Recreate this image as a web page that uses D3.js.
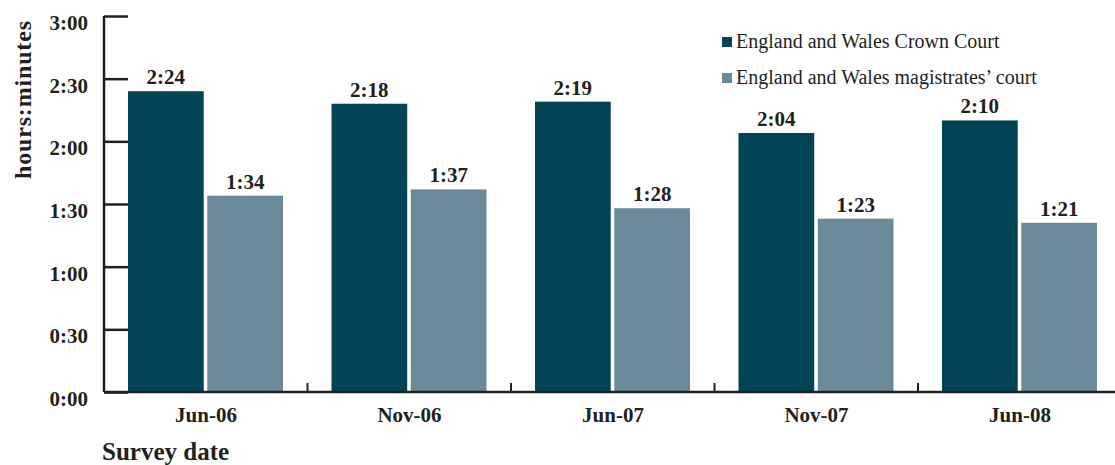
<!DOCTYPE html>
<html lang="en">
<head>
  <meta charset="UTF-8" />
  <title>Survey waiting times</title>
  <script src="https://cdn.jsdelivr.net/npm/d3@7"></script>
  <style>
    body { margin: 0; background: #fff; }
    text { font-family: "Liberation Serif", "DejaVu Serif", serif; fill: #231f20; }
  </style>
</head>
<body>
<script>
  // data, in minutes
  var dates = ["Jun-06", "Nov-06", "Jun-07", "Nov-07", "Jun-08"];
  var crownCourt = [144, 138, 139, 124, 130];
  var magistrates = [94, 97, 88, 83, 81];
  var seriesNames = ["England and Wales Crown Court", "England and Wales magistrates\u2019 court"];
  var yTicks = [0, 30, 60, 90, 120, 150, 180];

  var w = 1115,
    h = 465,
    plotLeft = 104,
    plotTop = 16,
    plotBottom = 392;

  var colors = ["#024456", "#6a8a9a"];

  function fmt(m) {
    var mm = m % 60;
    return Math.floor(m / 60) + ":" + (mm < 10 ? "0" : "") + mm;
  }

  var svg = d3.select("body").append("svg")
    .attr("width", w)
    .attr("height", h);

  var xScale = d3.scaleBand()
    .domain(dates)
    .range([plotLeft, plotLeft + 5 * 203.5]);

  var inner = d3.scaleBand()
    .domain([0, 1])
    .range([24, 179])
    .paddingInner(0.045);

  var yScale = d3.scaleLinear()
    .domain([0, 180])
    .range([plotBottom, plotTop]);

  var rows = dates.map(function(d, i) {
    return { date: d, values: [crownCourt[i], magistrates[i]] };
  });

  var groups = svg.selectAll("g.group")
    .data(rows)
    .enter()
    .append("g")
    .attr("class", "group")
    .attr("transform", function(d) { return "translate(" + xScale(d.date) + ",0)"; });

  groups.selectAll("rect")
    .data(function(d) { return d.values; })
    .enter()
    .append("rect")
    .attr("x", function(d, i) { return inner(i); })
    .attr("width", inner.bandwidth())
    .attr("y", function(d) { return yScale(d); })
    .attr("height", function(d) { return plotBottom - yScale(d); })
    .attr("fill", function(d, i) { return colors[i]; });

  groups.selectAll("text.val")
    .data(function(d) { return d.values; })
    .enter()
    .append("text")
    .attr("class", "val")
    .attr("x", function(d, i) { return inner(i) + inner.bandwidth() / 2; })
    .attr("y", function(d) { return yScale(d) - 7; })
    .attr("text-anchor", "middle")
    .attr("font-size", 21)
    .attr("font-weight", "bold")
    .text(function(d) { return fmt(d); });

  // y axis, ticks point into the plot
  var yAxis = d3.axisRight(yScale)
    .tickValues(yTicks)
    .tickSize(24)
    .tickFormat("");

  var gy = svg.append("g")
    .attr("transform", "translate(" + plotLeft + ",0)")
    .call(yAxis);
  gy.selectAll("line, path").attr("stroke", "#231f20").attr("stroke-width", 2.5);
  gy.select(".domain").attr("d", "M0," + plotTop + "V" + plotBottom);

  svg.selectAll("text.ytick")
    .data(yTicks)
    .enter()
    .append("text")
    .attr("class", "ytick")
    .attr("x", 88)
    .attr("y", function(d) { return yScale(d) + 14; })
    .attr("text-anchor", "end")
    .attr("font-size", 21)
    .attr("font-weight", "bold")
    .text(fmt);

  // x axis with short separators between groups
  svg.append("line")
    .attr("x1", plotLeft)
    .attr("x2", w)
    .attr("y1", plotBottom)
    .attr("y2", plotBottom)
    .attr("stroke", "#231f20")
    .attr("stroke-width", 2.5);

  svg.selectAll("line.sep")
    .data(dates.slice(1))
    .enter()
    .append("line")
    .attr("class", "sep")
    .attr("x1", function(d) { return xScale(d); })
    .attr("x2", function(d) { return xScale(d); })
    .attr("y1", plotBottom)
    .attr("y2", plotBottom - 9)
    .attr("stroke", "#231f20")
    .attr("stroke-width", 2);

  svg.selectAll("text.xlab")
    .data(dates)
    .enter()
    .append("text")
    .attr("class", "xlab")
    .attr("x", function(d) { return xScale(d) + 102; })
    .attr("y", 422)
    .attr("text-anchor", "middle")
    .attr("font-size", 21)
    .attr("font-weight", "bold")
    .text(function(d) { return d; });

  svg.append("text")
    .attr("x", 102)
    .attr("y", 460)
    .attr("font-size", 25)
    .attr("font-weight", "bold")
    .text("Survey date");

  svg.append("text")
    .attr("transform", "translate(31,100) rotate(-90)")
    .attr("text-anchor", "middle")
    .attr("font-size", 24)
    .attr("font-weight", "bold")
    .attr("textLength", 158)
    .text("hours:minutes");

  // legend
  var legend = svg.selectAll("g.legend")
    .data(seriesNames)
    .enter()
    .append("g")
    .attr("class", "legend")
    .attr("transform", function(d, i) { return "translate(722," + (37 + i * 36) + ")"; });

  legend.append("rect")
    .attr("width", 10)
    .attr("height", 10)
    .attr("fill", function(d, i) { return colors[i]; });

  legend.append("text")
    .attr("x", 14)
    .attr("y", 11)
    .attr("font-size", 20)
    .text(function(d) { return d; });
</script>
</body>
</html>
